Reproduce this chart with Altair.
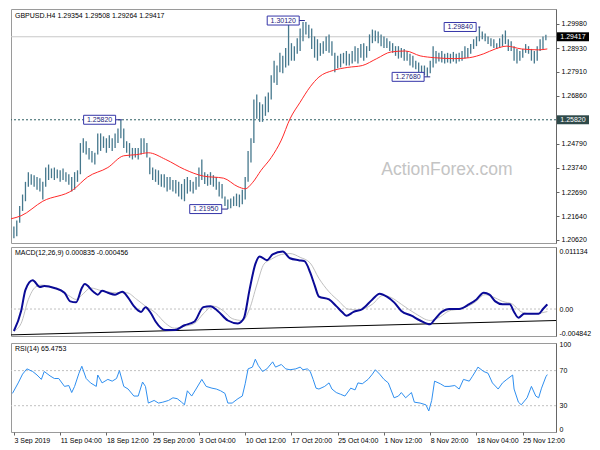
import altair as alt
import pandas as pd

FONT = "Liberation Sans"
W = 545
H_MAIN = 234
H_SUB = 89
X_MAX = 377

# ---------------- data ----------------
bar_hi = [1.2119, 1.2145, 1.2208, 1.2258, 1.2313, 1.2355, 1.2346, 1.2342, 1.2334, 1.2329,
          1.2313, 1.2375, 1.2388, 1.2371, 1.2375, 1.2367, 1.2363, 1.2371, 1.2355, 1.2346,
          1.2334, 1.2355, 1.2363, 1.2481, 1.2502, 1.2489, 1.2460, 1.2447, 1.2439, 1.2523,
          1.2523, 1.2510, 1.2502, 1.2515, 1.2502, 1.2523, 1.2544, 1.2582, 1.2544, 1.2489,
          1.2481, 1.2460, 1.2460, 1.2460, 1.2502, 1.2502, 1.2481, 1.2418, 1.2375, 1.2367,
          1.2363, 1.2346, 1.2346, 1.2334, 1.2334, 1.2321, 1.2321, 1.2313, 1.2304, 1.2325,
          1.2334, 1.2321, 1.2313, 1.2334, 1.2375, 1.2410, 1.2355, 1.2346, 1.2355, 1.2342,
          1.2334, 1.2313, 1.2304, 1.2250, 1.2237, 1.2241, 1.2250, 1.2262, 1.2258, 1.2279,
          1.2334, 1.2447, 1.2502, 1.2670, 1.2691, 1.2658, 1.2649, 1.2683, 1.2700, 1.2775,
          1.2838, 1.2817, 1.2872, 1.2859, 1.2893, 1.3012, 1.2914, 1.2901, 1.2935, 1.2977,
          1.3006, 1.3006, 1.2994, 1.2977, 1.2943, 1.2931, 1.2914, 1.2922, 1.2943, 1.2952,
          1.2922, 1.2872, 1.2859, 1.2868, 1.2872, 1.2880, 1.2868, 1.2880, 1.2901, 1.2893,
          1.2910, 1.2914, 1.2901, 1.2952, 1.2973, 1.2969, 1.2964, 1.2952, 1.2943, 1.2935,
          1.2922, 1.2914, 1.2901, 1.2901, 1.2893, 1.2889, 1.2880, 1.2868, 1.2859, 1.2838,
          1.2830, 1.2817, 1.2817, 1.2809, 1.2838, 1.2901, 1.2880, 1.2872, 1.2880, 1.2868,
          1.2872, 1.2868, 1.2876, 1.2868, 1.2872, 1.2880, 1.2901, 1.2893, 1.2910, 1.2931,
          1.2943, 1.2984, 1.2964, 1.2956, 1.2943, 1.2935, 1.2931, 1.2914, 1.2935, 1.2952,
          1.2969, 1.2931, 1.2922, 1.2901, 1.2889, 1.2880, 1.2889, 1.2910, 1.2901, 1.2889,
          1.2880, 1.2901, 1.2931, 1.2943, 1.29508]
bar_lo = [1.2069, 1.2077, 1.2136, 1.2187, 1.2229, 1.2292, 1.2300, 1.2292, 1.2279, 1.2271,
          1.2237, 1.2292, 1.2321, 1.2329, 1.2321, 1.2329, 1.2313, 1.2321, 1.2313, 1.2300,
          1.2271, 1.2279, 1.2313, 1.2346, 1.2439, 1.2431, 1.2410, 1.2397, 1.2388, 1.2431,
          1.2447, 1.2460, 1.2439, 1.2460, 1.2447, 1.2460, 1.2481, 1.2502, 1.2460, 1.2439,
          1.2418, 1.2410, 1.2418, 1.2410, 1.2431, 1.2439, 1.2418, 1.2346, 1.2321, 1.2313,
          1.2300, 1.2292, 1.2288, 1.2271, 1.2279, 1.2271, 1.2262, 1.2250, 1.2237, 1.2229,
          1.2262, 1.2271, 1.2262, 1.2279, 1.2292, 1.2321, 1.2304, 1.2296, 1.2300, 1.2292,
          1.2279, 1.2250, 1.2241, 1.2208, 1.2195, 1.2199, 1.2208, 1.2208, 1.2203, 1.2216,
          1.2237, 1.2313, 1.2397, 1.2481, 1.2586, 1.2573, 1.2573, 1.2599, 1.2615, 1.2670,
          1.2742, 1.2733, 1.2788, 1.2784, 1.2809, 1.2817, 1.2838, 1.2838, 1.2868, 1.2880,
          1.2922, 1.2952, 1.2935, 1.2889, 1.2851, 1.2838, 1.2859, 1.2868, 1.2880, 1.2872,
          1.2859, 1.2788, 1.2805, 1.2809, 1.2826, 1.2817, 1.2817, 1.2826, 1.2834, 1.2826,
          1.2851, 1.2838, 1.2851, 1.2880, 1.2914, 1.2922, 1.2914, 1.2901, 1.2893, 1.2893,
          1.2880, 1.2872, 1.2859, 1.2847, 1.2851, 1.2838, 1.2838, 1.2817, 1.2809, 1.2801,
          1.2788, 1.2775, 1.2775, 1.2768, 1.2784, 1.2809, 1.2826, 1.2834, 1.2830, 1.2826,
          1.2830, 1.2826, 1.2834, 1.2826, 1.2834, 1.2838, 1.2847, 1.2851, 1.2868, 1.2889,
          1.2901, 1.2922, 1.2931, 1.2922, 1.2910, 1.2901, 1.2893, 1.2889, 1.2893, 1.2901,
          1.2910, 1.2880, 1.2880, 1.2838, 1.2826, 1.2838, 1.2851, 1.2872, 1.2868, 1.2838,
          1.2826, 1.2838, 1.2880, 1.2889, 1.29264]
bar_idx = list(range(2, 2 + 2 * len(bar_hi), 2))

ma_idx = [0, 7, 22, 43, 53, 67, 78, 87, 95, 107, 120, 133, 147, 157, 162, 167, 173, 180, 187,
          193, 200, 207, 213, 223, 233, 243, 253, 263, 273, 283, 293, 307, 317, 327, 335, 343,
          353, 365, 371]
ma_val = [1.2153, 1.2166, 1.2229, 1.2279, 1.2334, 1.2375, 1.2426, 1.2431, 1.2439, 1.2410,
          1.2367, 1.2338, 1.2329, 1.2292, 1.2283, 1.2309, 1.2363, 1.2418, 1.2494, 1.2586,
          1.2658, 1.2725, 1.2767, 1.2796, 1.2809, 1.2817, 1.2847, 1.2876, 1.2880, 1.2859,
          1.2851, 1.2847, 1.2851, 1.2868, 1.2889, 1.2901, 1.2889, 1.2885, 1.2889]

macd_idx = [2, 7, 10, 15, 20, 23, 30, 37, 41, 45, 49, 51, 57, 60, 63, 67, 72, 77, 81, 85, 90,
            93, 97, 100, 107, 113, 120, 127, 133, 138, 143, 150, 157, 161, 165, 169, 172, 177,
            181, 188, 193, 199, 203, 207, 210, 213, 220, 225, 229, 232, 237, 243, 250, 255,
            260, 265, 270, 277, 283, 290, 293, 298, 303, 310, 317, 322, 327, 331, 335, 340,
            345, 348, 351, 355, 360, 365, 368, 371]
macd_val = [-0.00395, -0.00034, 0.00344, 0.00515, 0.00395, 0.00412, 0.00378, 0.00292, 0.00137,
            0.00120, 0.00378, 0.00447, 0.00309, 0.00258, 0.00326, 0.00292, 0.00258, 0.00309,
            0.00206, 0.00052, -0.00052, 0.00034, -0.00086, -0.00223, -0.00378, -0.00378,
            -0.00292, -0.00223, 0.00034, 0.00052, -0.00034, -0.00206, -0.00258, -0.00172,
            0.00344, 0.00807, 0.00945, 0.00876, 0.00979, 0.01031, 0.00911, 0.00876, 0.00859,
            0.00653, 0.00430, 0.00223, 0.00172, 0.00052, -0.00052, -0.00120, -0.00052, 0.0,
            0.00172, 0.00275, 0.00223, 0.00120, -0.00034, -0.00120, -0.00206, -0.00275,
            -0.00189, -0.00052, 0.0, 0.0, 0.00086, 0.00172, 0.00292, 0.00258, 0.00137,
            0.00086, 0.00086, -0.00052, -0.00155, -0.00086, -0.00086, -0.00086, 0.0, 0.000835]

signal_idx = [2, 7, 12, 17, 21, 30, 40, 45, 50, 55, 63, 73, 80, 87, 93, 100, 107, 113, 120,
              127, 133, 140, 147, 153, 160, 165, 170, 175, 180, 187, 193, 200, 207, 213, 220,
              227, 233, 240, 250, 257, 263, 270, 280, 290, 297, 303, 310, 320, 328, 333, 340,
              347, 353, 360, 367, 371]
signal_val = [-0.00395, -0.00258, 0.00172, 0.00395, 0.00430, 0.00378, 0.00241, 0.00172,
              0.00275, 0.00378, 0.00326, 0.00292, 0.00292, 0.00172, 0.00052, -0.00069,
              -0.00258, -0.00344, -0.00309, -0.00258, -0.00086, 0.00052, -0.00034, -0.00172,
              -0.00206, 0.0, 0.00430, 0.00807, 0.00893, 0.00979, 0.00996, 0.00928, 0.00825,
              0.00550, 0.00309, 0.00137, 0.0, -0.00017, 0.00086, 0.00241, 0.00206, 0.00086,
              -0.00086, -0.00206, -0.00137, -0.00034, 0.0, 0.00103, 0.00258, 0.00223, 0.00137,
              0.00086, -0.00052, -0.00086, -0.00069, -0.000456]

rsi_idx = [1, 5, 8, 11, 15, 18, 21, 23, 27, 30, 33, 37, 40, 42, 44, 47, 49, 52, 55, 59, 60,
           63, 67, 70, 73, 75, 78, 81, 85, 88, 91, 93, 95, 99, 102, 105, 109, 112, 115, 118,
           120, 122, 125, 128, 132, 135, 139, 142, 145, 148, 150, 153, 157, 160, 162, 164,
           167, 169, 171, 174, 177, 181, 183, 187, 190, 193, 197, 200, 202, 205, 207, 209,
           211, 213, 217, 220, 222, 225, 228, 231, 235, 238, 240, 243, 247, 250, 252, 255,
           258, 261, 265, 268, 270, 273, 277, 279, 283, 287, 289, 291, 293, 297, 300, 303,
           307, 310, 313, 317, 319, 322, 323, 327, 330, 333, 337, 340, 343, 347, 348, 351,
           353, 357, 360, 363, 365, 367, 370, 371]
rsi_val = [44, 56, 66, 72, 69, 65, 60, 69, 64, 61, 61, 52, 53, 45, 52, 67, 75, 61, 56, 52, 65,
           56, 60, 58, 61, 70, 52, 49, 41, 41, 57, 52, 33, 36, 33, 34, 36, 39, 38, 34,
           31, 47, 41, 49, 60, 52, 50, 49, 47, 44, 33, 33, 38, 41, 55, 72,
           74, 83, 76, 69, 72, 80, 74, 77, 72, 71, 72, 74, 71, 72, 69, 60,
           50, 49, 52, 56, 49, 45, 43, 41, 50, 48, 56, 55, 60, 66, 71, 66,
           60, 56, 39, 41, 45, 39, 45, 34, 33, 31, 24, 36, 58, 55, 52, 52,
           53, 49, 60, 58, 63, 71, 74, 69, 67, 56, 49, 56, 60, 65, 49, 34,
           31, 39, 52, 41, 39, 50, 63, 65.4753]

price_ticks = [1.2998, 1.2893, 1.2791, 1.2686, 1.2479, 1.2374, 1.2269, 1.2164, 1.2062]
macd_ticks = [-0.004842, 0.0, 0.011134]
macd_tick_labels = ["-0.004842", "0.00", "0.011134"]
rsi_ticks = [0, 30, 70, 100]
date_ticks = [2, 34, 66, 98, 130, 162, 194, 226, 258, 290, 322, 354]
date_labels = ["3 Sep 2019", "11 Sep 04:00", "18 Sep 12:00", "25 Sep 20:00", "3 Oct 04:00",
               "10 Oct 12:00", "17 Oct 20:00", "25 Oct 04:00", "1 Nov 12:00", "8 Nov 20:00",
               "18 Nov 04:00", "25 Nov 12:00"]

ann_label = ["1.30120", "1.25820", "1.21950", "1.27680", "1.29840"]
ann_price = [1.3012, 1.2582, 1.2195, 1.2768, 1.2984]
ann_box_idx = [188.3, 61.3, 134.7, 274.7, 310.7]
ann_from_idx = [198.7, 71.3, 145.3, 285.3, 323.3]
ann_to_idx = [203.3, 76.7, 150.0, 290.0, 324.7]

last_price = 1.29417
level_price = 1.2582
trend_idx = [0, 377]
trend_val = [-0.00464, -0.00206]

title_main = "GBPUSD.H4  1.29354 1.29508 1.29264 1.29417"
title_macd = "MACD(12,26,9) 0.000835 -0.000456"
title_rsi = "RSI(14) 65.4753"

# ---------------- styles ----------------
BAR_COLOR = "#46788d"
BOX_PATH = "M-1,-0.28L1,-0.28L1,0.28L-1,0.28Z"

x_scale = alt.Scale(domain=[0, X_MAX], nice=False, zero=False)
price_scale = alt.Scale(domain=[1.2048, 1.3062], nice=False, zero=False)
macd_scale = alt.Scale(domain=[-0.004842, 0.011134], nice=False, zero=False)
rsi_scale = alt.Scale(domain=[0, 101.5], nice=False, zero=False)

price_axis = alt.Axis(orient="right", values=price_ticks, format=".5f", tickSize=3,
                      labelPadding=2, title=None, grid=False)
macd_expr = " : ".join(
    [f"datum.value == {v} ? '{l}'" for v, l in zip(macd_ticks[:-1], macd_tick_labels[:-1])]
) + f" : '{macd_tick_labels[-1]}'"
macd_axis = alt.Axis(orient="right", values=macd_ticks, labelExpr=macd_expr, tickSize=0,
                     labelPadding=3, labelFlush=True, title=None, grid=False)
rsi_axis = alt.Axis(orient="right", values=rsi_ticks, format="d", tickSize=0, labelPadding=3,
                    labelFlush=True, title=None, grid=False)
date_expr = ("[" + ",".join(f"'{l}'" for l in date_labels) + "][indexof(["
             + ",".join(str(t) for t in date_ticks) + "], datum.value)]")
date_axis = alt.Axis(orient="bottom", values=date_ticks, labelExpr=date_expr, tickSize=3,
                     labelAlign="left", labelBaseline="top", labelPadding=1, labelOverlap=False,
                     labelBound=False, title=None, grid=False, domain=False)

X = lambda f: alt.X(f, scale=x_scale, axis=None)

# ---------------- main panel ----------------
bars_df = pd.DataFrame({"idx": bar_idx, "hi": bar_hi, "lo": bar_lo})
ma_df = pd.DataFrame({"idx": ma_idx, "ma": ma_val})
ann_df = pd.DataFrame({"label": ann_label, "price": ann_price, "bx": ann_box_idx,
                       "x0": ann_from_idx, "x1": ann_to_idx})
last_df = pd.DataFrame({"price": [last_price], "label": [f"{last_price:.5f}"]})
level_df = pd.DataFrame({"price": [level_price], "label": [f"{level_price:.5f}"]})

PY = lambda f: alt.Y(f, scale=price_scale, axis=price_axis)

last_line = alt.Chart(last_df).mark_rule(color="#c8c8c8", strokeWidth=1).encode(y=PY("price:Q"))
level_line = alt.Chart(level_df).mark_rule(color="#2f5f63", strokeWidth=1, strokeDash=[2, 2]).encode(
    y=PY("price:Q"))
bars = alt.Chart(bars_df).mark_rule(color=BAR_COLOR, strokeWidth=1.3).encode(
    x=X("idx:Q"), y=PY("lo:Q"), y2="hi:Q")
ma_line = alt.Chart(ma_df).mark_line(color="#ff2a2a", strokeWidth=1, interpolate="monotone").encode(
    x=X("idx:Q"), y=PY("ma:Q"))
ann_conn = alt.Chart(ann_df).mark_rule(color="#2a2a90", strokeWidth=1).encode(
    x=X("x0:Q"), x2="x1:Q", y=PY("price:Q"))
ann_box = alt.Chart(ann_df).mark_point(shape=BOX_PATH, size=1024, filled=True, fill="white",
                                       stroke="#3535a8", strokeWidth=1, opacity=1).encode(
    x=X("bx:Q"), y=PY("price:Q"))
ann_text = alt.Chart(ann_df).mark_text(font=FONT, fontSize=7, color="#22227a", align="center",
                                       baseline="middle").encode(
    x=X("bx:Q"), y=PY("price:Q"), text="label:N")
last_box = alt.Chart(last_df).mark_point(shape=BOX_PATH, size=1024, filled=True, fill="black",
                                         opacity=1, strokeWidth=0).encode(
    x=alt.value(W + 17), y=PY("price:Q"))
last_text = alt.Chart(last_df).mark_text(font=FONT, fontSize=7, color="white", align="center",
                                         baseline="middle").encode(
    x=alt.value(W + 17), y=PY("price:Q"), text="label:N")
level_box = alt.Chart(level_df).mark_point(shape=BOX_PATH, size=1024, filled=True, fill="#2f4a4a",
                                           opacity=1, strokeWidth=0).encode(
    x=alt.value(W + 17), y=PY("price:Q"))
level_text = alt.Chart(level_df).mark_text(font=FONT, fontSize=7, color="white", align="center",
                                           baseline="middle").encode(
    x=alt.value(W + 17), y=PY("price:Q"), text="label:N")
main_title = alt.Chart(pd.DataFrame({"t": [title_main]})).mark_text(
    font=FONT, fontSize=7, color="black", align="left", baseline="middle").encode(
    x=alt.value(4), y=alt.value(7), text="t:N")
watermark = alt.Chart(pd.DataFrame({"t": ["ActionForex.com"]})).mark_text(
    font=FONT, fontSize=17.5, color="#c4c4c4", align="center", baseline="middle").encode(
    x=alt.value(436), y=alt.value(161), text="t:N")

main = alt.layer(watermark, last_line, level_line, bars, ma_line, ann_conn, ann_box, ann_text,
                 last_box, last_text, level_box, level_text, main_title).properties(
    width=W, height=H_MAIN)

# ---------------- MACD panel ----------------
MY = lambda f: alt.Y(f, scale=macd_scale, axis=macd_axis)
macd_df = pd.DataFrame({"idx": macd_idx, "v": macd_val})
sig_df = pd.DataFrame({"idx": signal_idx, "v": signal_val})
trend_df = pd.DataFrame({"x0": [trend_idx[0]], "x1": [trend_idx[1]],
                         "y0": [trend_val[0]], "y1": [trend_val[1]]})
zero_df = pd.DataFrame({"v": [0.0]})

macd_zero = alt.Chart(zero_df).mark_rule(color="#c0c0c0", strokeDash=[2, 2]).encode(y=MY("v:Q"))
macd_trend = alt.Chart(trend_df).mark_rule(color="black", strokeWidth=1).encode(
    x=X("x0:Q"), x2="x1:Q", y=MY("y0:Q"), y2="y1:Q")
sig_line = alt.Chart(sig_df).mark_line(color="#c0c0c0", strokeWidth=1, interpolate="monotone").encode(
    x=X("idx:Q"), y=MY("v:Q"))
macd_line = alt.Chart(macd_df).mark_line(color="#0a0a96", strokeWidth=2, interpolate="monotone").encode(
    x=X("idx:Q"), y=MY("v:Q"))
macd_title = alt.Chart(pd.DataFrame({"t": [title_macd]})).mark_text(
    font=FONT, fontSize=7, color="black", align="left", baseline="middle").encode(
    x=alt.value(4), y=alt.value(6), text="t:N")
macd = alt.layer(macd_zero, macd_trend, sig_line, macd_line, macd_title).properties(
    width=W, height=H_SUB)

# ---------------- RSI panel ----------------
RY = lambda f: alt.Y(f, scale=rsi_scale, axis=rsi_axis)
rsi_df = pd.DataFrame({"idx": rsi_idx, "v": rsi_val})
lvl_df = pd.DataFrame({"v": [30, 70]})
rsi_lvls = alt.Chart(lvl_df).mark_rule(color="#c0c0c0", strokeDash=[2, 2]).encode(y=RY("v:Q"))
rsi_line = alt.Chart(rsi_df).mark_line(color="#2f8ff0", strokeWidth=1).encode(
    x=alt.X("idx:Q", scale=x_scale, axis=date_axis), y=RY("v:Q"))
rsi_title = alt.Chart(pd.DataFrame({"t": [title_rsi]})).mark_text(
    font=FONT, fontSize=7, color="black", align="left", baseline="middle").encode(
    x=alt.value(4), y=alt.value(6), text="t:N")
rsi = alt.layer(rsi_lvls, rsi_line, rsi_title).properties(width=W, height=H_SUB)

chart = alt.vconcat(main, macd, rsi, spacing=2).properties(
    padding={"left": 0, "top": 0, "right": 0, "bottom": 0}, background="white"
).configure_view(stroke="#9a9a9a", strokeWidth=1).configure_axis(
    labelFont=FONT, labelFontSize=7, labelColor="black", domainColor="#666666",
    tickColor="#666666")

chart.save("out.html", embed_options={"renderer": "svg", "actions": False})
